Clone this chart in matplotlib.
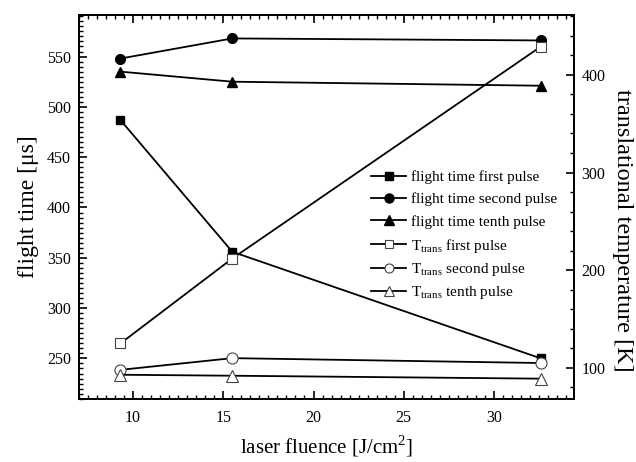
import numpy as np
import matplotlib
matplotlib.use('Agg')
import matplotlib.pyplot as plt
from matplotlib.ticker import MultipleLocator
from matplotlib.lines import Line2D

plt.rcParams['font.family'] = ['Liberation Serif', 'DejaVu Serif']
plt.rcParams['mathtext.fontset'] = 'custom'
plt.rcParams['mathtext.rm'] = 'Liberation Serif'

# laser fluence [J/cm^2]
fluence = [9.3, 15.5, 32.6]

# flight time [us] (left axis)
ft_first = [487, 356, 250]
ft_second = [548, 568, 566]
ft_tenth = [535, 525, 521]

# translational temperature [K] (right axis)
t_first = [125, 212, 429]
t_second = [98, 110, 105]
t_tenth = [93, 92, 89]

fig = plt.figure(figsize=(6.36, 4.62), dpi=100)
ax = fig.add_axes([0.124, 0.136, 0.779, 0.832])
ax2 = ax.twinx()

kw = dict(color='black', lw=1.3)
ax.plot(fluence, ft_first, marker='s', ms=6, **kw)
ax.plot(fluence, ft_second, marker='o', ms=7, **kw)
ax.plot(fluence, ft_tenth, marker='^', ms=7.5, **kw)

okw = dict(color='black', lw=1.3, mfc='white', mec='#444444', mew=0.8)
ax2.plot(fluence, t_first, marker='s', ms=7, **okw)
ax2.plot(fluence, t_second, marker='o', ms=8, **okw)
ax2.plot(fluence, t_tenth, marker='^', ms=8.5, **okw)

ax.set_xlim(7.0, 34.45)
ax.set_ylim(209.5, 591.5)
ax2.set_ylim(68, 461.5)

ax.xaxis.set_major_locator(MultipleLocator(5))
ax.xaxis.set_minor_locator(MultipleLocator(0.5))
ax.yaxis.set_major_locator(MultipleLocator(50))
ax.yaxis.set_minor_locator(MultipleLocator(5))
ax2.yaxis.set_major_locator(MultipleLocator(100))
ax2.yaxis.set_minor_locator(MultipleLocator(20))

ax.tick_params(axis='x', which='both', direction='in', top=True, labelsize=11.5, pad=8)
ax.tick_params(axis='y', which='both', direction='in', right=False, labelsize=11.5, pad=5.5)
ax.tick_params(which='major', length=6, width=1.2)
ax.tick_params(which='minor', length=3, width=1.0)
ax2.tick_params(axis='y', which='both', direction='in', labelsize=11.5, pad=5)
ax2.tick_params(which='major', length=6, width=1.2)
ax2.tick_params(which='minor', length=3, width=1.0)
for a in (ax, ax2):
    for s in a.spines.values():
        s.set_linewidth(1.3)

ax.set_xlabel('laser fluence [J/cm$^2$]', fontsize=15, labelpad=5)
ax.set_ylabel('flight time [\u03bcs]', fontsize=17, labelpad=6)
ax2.set_ylabel('translational temperature [K]', fontsize=17.5, rotation=270, labelpad=20)
ax2.yaxis.set_label_coords(1.118, 0.44)

h1 = [Line2D([], [], marker='s', ms=6, **kw),
      Line2D([], [], marker='o', ms=6.5, **kw),
      Line2D([], [], marker='^', ms=7, **kw)]
l1 = ['flight time first pulse', 'flight time second pulse', 'flight time tenth pulse']
h2 = [Line2D([], [], marker='s', ms=6, **okw),
      Line2D([], [], marker='o', ms=6.5, **okw),
      Line2D([], [], marker='^', ms=7, **okw)]
l2 = [r'T$_{\rm trans}$ first pulse', r'T$_{\rm trans}$ second pulse', r'T$_{\rm trans}$ tenth pulse']

leg1 = ax2.legend(h1, l1, loc='upper left', bbox_to_anchor=(0.59, 0.595), frameon=False,
                  fontsize=11, handlelength=2.3, handletextpad=0.3, labelspacing=0.55,
                  borderpad=0, borderaxespad=0)
ax2.add_artist(leg1)
ax2.legend(h2, l2, loc='upper left', bbox_to_anchor=(0.59, 0.423), frameon=False,
           fontsize=11, handlelength=2.3, handletextpad=0.3, labelspacing=0.42,
           borderpad=0, borderaxespad=0)

fig.savefig('out.png', dpi=100)
